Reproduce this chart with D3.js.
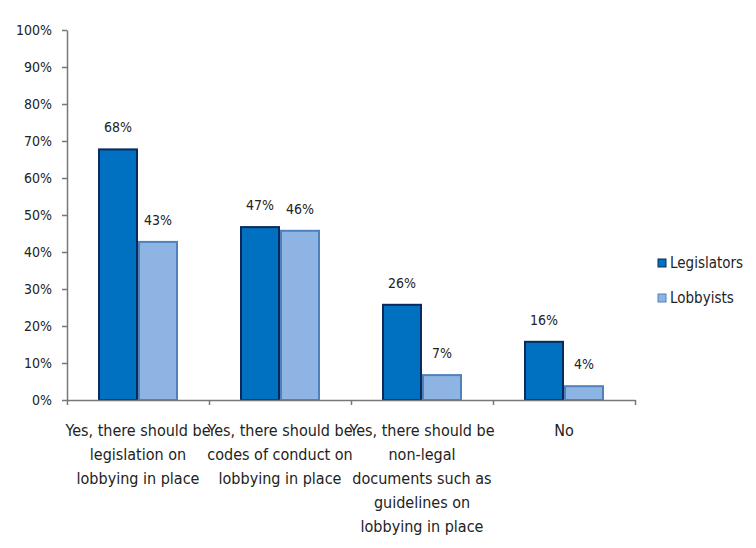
<!DOCTYPE html>
<html><head><meta charset="utf-8">
<script src="https://cdn.jsdelivr.net/npm/d3@7"></script>
<style>
body{margin:0;background:#fff;}
svg{display:block;}
text{font-family:"Liberation Sans Narrow","DejaVu Sans Condensed","Roboto",sans-serif;fill:#222;}
</style></head>
<body><svg id="c" width="756" height="548"></svg>
<script>
const categories = [
  ["Yes, there should be","legislation on","lobbying in place"],
  ["Yes, there should be","codes of conduct on","lobbying in place"],
  ["Yes, there should be","non-legal","documents such as","guidelines on","lobbying in place"],
  ["No"]
];
const seriesNames = ["Legislators","Lobbyists"];
const legislators = [68, 47, 26, 16];
const lobbyists = [43, 46, 7, 4];
const yTicks = [0,10,20,30,40,50,60,70,80,90,100];

(function(){
const fills = ["#0070C0","#8DB4E2"];
const strokes = ["#0B2A5C","#4F81BD"];

const svg = d3.select("#c");
const mLeft = 67, mRight = 635, mTop = 30, mBottom = 400;
const x = d3.scaleBand().domain(d3.range(categories.length)).range([mLeft,mRight]).paddingInner(0).paddingOuter(0);
const y = d3.scaleLinear().domain([0,100]).range([mBottom,mTop]);
const xs = d3.scaleBand().domain([0,1]).range([0, 80]);
const groupOffset = (x.bandwidth()-80)/2;

// y axis
const yAxis = d3.axisLeft(y).tickValues(yTicks).tickFormat(d=>d+"%").tickSize(5).tickSizeOuter(0);
const yg = svg.append("g").attr("transform",`translate(${mLeft},0)`).call(yAxis);
yg.select(".domain").attr("stroke","#777").attr("stroke-width",1.5);
yg.selectAll(".tick line").attr("stroke","#777").attr("stroke-width",1.5);
yg.selectAll(".tick text").attr("font-size",14).attr("x",-15).attr("dy","0.35em").style("fill","#222").style("font-family",'"Liberation Sans Narrow","DejaVu Sans Condensed",sans-serif');

// bars
const data = [legislators, lobbyists];
data.forEach((vals,si)=>{
  svg.append("g").selectAll("rect").data(vals).join("rect")
    .attr("x",(d,i)=>x(i)+groupOffset+xs(si)+1)
    .attr("y",d=>y(d)+1)
    .attr("width",xs.bandwidth()-2)
    .attr("height",d=>mBottom-y(d)-1)
    .attr("fill",fills[si]).attr("stroke",strokes[si]).attr("stroke-width",2);
  svg.append("g").selectAll("text").data(vals).join("text")
    .attr("x",(d,i)=>x(i)+groupOffset+xs(si)+xs.bandwidth()/2)
    .attr("y",d=>y(d)-16)
    .attr("text-anchor","middle").attr("font-size",14)
    .text(d=>d+"%");
});

// x axis
const xAxisScale = d3.scaleLinear().domain([0,categories.length]).range([mLeft,mRight]);
const xg = svg.append("g").attr("transform",`translate(0,${mBottom})`)
  .call(d3.axisBottom(xAxisScale).tickValues(d3.range(categories.length+1)).tickFormat("").tickSize(5).tickSizeOuter(0));
xg.select(".domain").attr("stroke","#777").attr("stroke-width",1.5);
xg.selectAll(".tick line").attr("stroke","#777").attr("stroke-width",1.5);

// x labels
categories.forEach((lines,i)=>{
  const t = svg.append("text").attr("text-anchor","middle").attr("font-size",16)
    .attr("x",x(i)+x.bandwidth()/2).attr("y",436);
  lines.forEach((ln,j)=>{
    t.append("tspan").attr("x",x(i)+x.bandwidth()/2).attr("dy",j===0?0:24).text(ln);
  });
});

// legend
const lg = svg.append("g");
seriesNames.forEach((n,i)=>{
  const yy = 263 + i*35;
  lg.append("rect").attr("x",658).attr("y",yy-4).attr("width",8).attr("height",8)
    .attr("fill",fills[i]).attr("stroke",strokes[i]).attr("stroke-width",1);
  lg.append("text").attr("x",670).attr("y",yy).attr("dy","0.35em").attr("font-size",15).text(n);
});
})();
</script>
</body></html>
